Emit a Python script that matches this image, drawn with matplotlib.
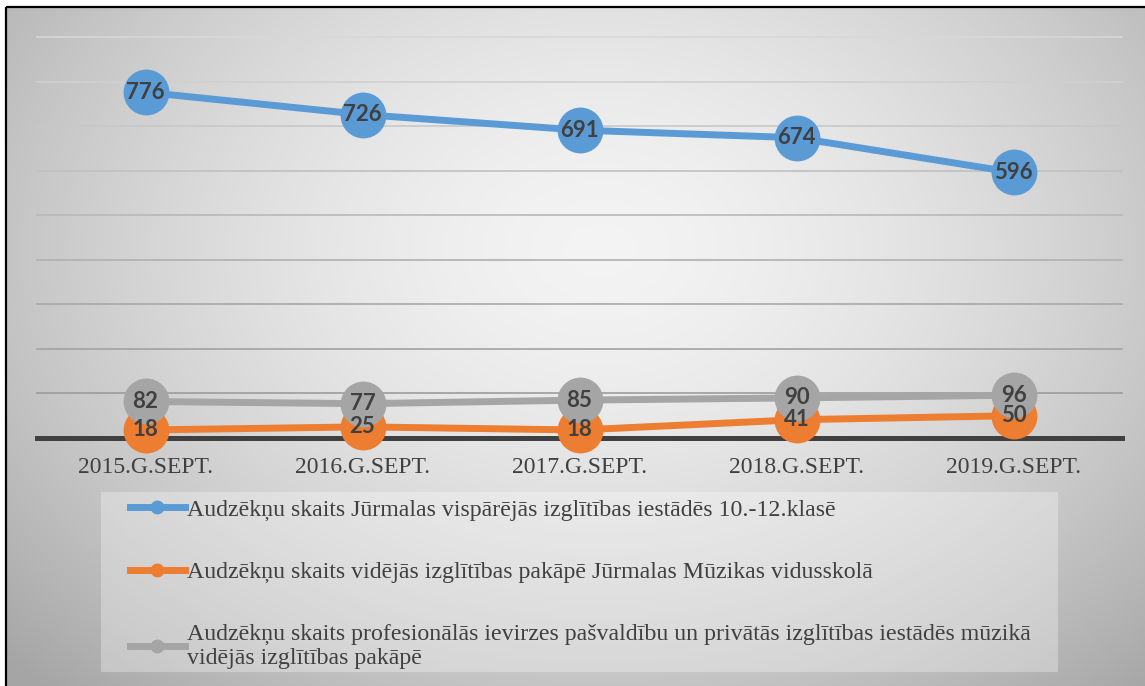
import numpy as np
import matplotlib.pyplot as plt
from matplotlib.lines import Line2D
from matplotlib.patches import Rectangle

# data
years = ["2015.G.SEPT.", "2016.G.SEPT.", "2017.G.SEPT.", "2018.G.SEPT.", "2019.G.SEPT."]
general = [776, 726, 691, 674, 596]
music_school = [18, 25, 18, 41, 50]
professional = [82, 77, 85, 90, 96]
labels = [
    "Audzēkņu skaits Jūrmalas vispārējās izglītības iestādēs 10.-12.klasē",
    "Audzēkņu skaits vidējās izglītības pakāpē Jūrmalas Mūzikas vidusskolā",
    "Audzēkņu skaits profesionālās ievirzes pašvaldību un privātās izglītības iestādēs mūzikā\nvidējās izglītības pakāpē",
]
colors = ["#5B9BD5", "#ED7D31", "#A5A5A5"]

W, H = 1145, 686
fig = plt.figure(figsize=(W / 100, H / 100), dpi=100)
fig.patch.set_facecolor("white")

# background with radial gradient inside the frame
bg = fig.add_axes([0, 0, 1, 1])
bg.set_xlim(0, W)
bg.set_ylim(H, 0)
bg.axis("off")
yy, xx = np.mgrid[0:H, 0:W]
r = np.sqrt(((xx - 600) / 680.0) ** 2 + ((yy - 250) / 500.0) ** 2)
shade = 0.955 - 0.23 * np.clip(r, 0, 1.2) ** 1.6
img = np.dstack([shade, shade, shade])
bg.imshow(img[7:, 6:], extent=(6, W, H, 7), aspect="auto", zorder=0)
bg.add_patch(Rectangle((6, 7), W + 20, H + 20, fill=False, edgecolor="black", lw=1.6, zorder=1))

# legend box
bg.add_patch(Rectangle((101, 492), 957, 180, facecolor="white", alpha=0.3, edgecolor="none", zorder=1))

ax = fig.add_axes([37 / W, 1 - 438 / H, 1085 / W, 401 / H])
ax.patch.set_alpha(0)
x = np.arange(len(years))
ax.set_xlim(-0.5, len(years) - 0.5)
ax.set_ylim(0, 900)

grid_cols = ["#d8d8d8", "#d0d0d0", "#c8c8c8", "#c0c0c0", "#b8b8b8", "#b0b0b0", "#a8a8a8", "#a2a2a2", "#9c9c9c"]
for i, gy in enumerate(range(100, 1000, 100)):
    ax.axhline(gy, color=grid_cols[::-1][i], lw=1.2, zorder=1, clip_on=False)
ax.axhline(0, color="#404040", lw=3.6, zorder=2, clip_on=False)

for ys, c in zip([general, music_school, professional], colors):
    ax.plot(x, ys, color=c, lw=5, marker="o", markersize=33, markeredgewidth=0,
            zorder=3, clip_on=False)
for ys in [general, music_school, professional]:
    for xi, v in zip(x, ys):
        ax.text(xi, v, str(v), ha="center", va="center", fontsize=16, fontweight="bold",
                family="Lato", color="#404040", zorder=5)

ax.set_yticks([])
ax.set_xticks(x)
ax.set_xticklabels(years, family="Liberation Serif", fontsize=17, color="#404040")
ax.tick_params(axis="x", length=0, pad=14)
for s in ax.spines.values():
    s.set_visible(False)

handles = [Line2D([0], [0], color=c, lw=5, marker="o", markersize=9) for c in colors]
fig.legend(handles, labels, loc="upper left", bbox_to_anchor=(130 / W, 1 - 499 / H),
           frameon=False, prop={"family": "Liberation Serif", "size": 17.2},
           labelcolor="#404040", handlelength=2.3, handletextpad=0.1,
           labelspacing=1.7, borderpad=0, borderaxespad=0)

fig.savefig("out.png", dpi=100)
